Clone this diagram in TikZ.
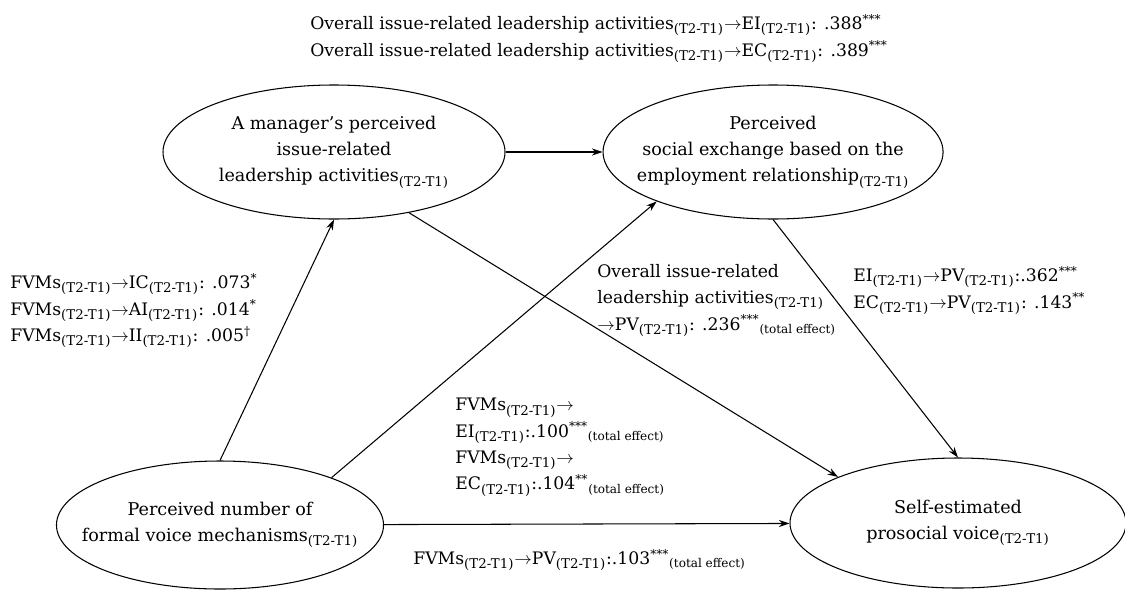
\documentclass[tikz,border=0pt]{standalone}
\usepackage{fontspec}
\setmainfont{DejaVu Serif}
\usetikzlibrary{arrows.meta,positioning,shapes.geometric}

% difference scores and arrows inside the labels
\newcommand{\tdiff}{\textsubscript{\fontsize{7.6}{9}\selectfont(T2-T1)}}
\newcommand{\toteff}{\textsubscript{(total effect)}}
\newcommand{\goes}{$\rightarrow$}

\begin{document}
\begin{tikzpicture}[
  construct/.style={draw, ellipse, inner ysep=0pt, inner xsep=-0.45cm, align=center, line width=0.6pt, font=\fontsize{10}{15}\selectfont},
  est/.style={align=left, inner sep=0pt, anchor=north west, font=\fontsize{9.8}{15}\selectfont},
  arr/.style={-{Stealth[length=6pt,width=4pt]}, line width=0.6pt}
]
\useasboundingbox (0,0) rectangle (22.5,11.82);

% latent constructs
\node[construct, minimum width=6.84cm, minimum height=2.68cm] (lead) at (6.68,8.78)
  {A manager’s perceived\\issue-related\\leadership activities\tdiff};
\node[construct, minimum width=6.8cm, minimum height=2.68cm, right=1.94cm of lead] (soc)
  {Perceived\\social exchange based on the\\employment relationship\tdiff};
\node[construct, minimum width=6.48cm, minimum height=2.56cm] (fvm) at (4.40,1.32)
  {Perceived number of\\formal voice mechanisms\tdiff};
\node[construct, minimum width=6.72cm, minimum height=2.6cm] (pv) at (19.16,1.36)
  {Self-estimated\\prosocial voice\tdiff};

% paths
\draw[arr] (lead) -- (soc);
\draw[arr] (fvm.north) -- (lead.south);
\draw[arr] (fvm.23) -- (soc.203);
\draw[arr] (lead.-39) -- (pv.159);
\draw[arr] (soc.south) -- (pv.north);
\draw[arr] (fvm) -- (pv);

% estimates
\node[est] (topest) at (6.2,11.54)
  {Overall issue-related leadership activities\tdiff\goes EI\tdiff: .388\textsuperscript{***}\\
   Overall issue-related leadership activities\tdiff\goes EC\tdiff: .389\textsuperscript{***}};
\node[est] (leftest) at (0.2,6.36)
  {FVMs\tdiff\goes IC\tdiff: .073\textsuperscript{*}\\
   FVMs\tdiff\goes AI\tdiff: .014\textsuperscript{*}\\
   FVMs\tdiff\goes II\tdiff: .005\textsuperscript{\dag}};
\node[est] (midest) at (11.94,6.54)
  {Overall issue-related\\
   leadership activities\tdiff\\
   \goes PV\tdiff: .236\textsuperscript{***}\toteff};
\node[est] (rightest) at (17.06,6.5)
  {EI\tdiff\goes PV\tdiff:.362\textsuperscript{***}\\
   EC\tdiff\goes PV\tdiff: .143\textsuperscript{**}};
\node[est] (fvmest) at (9.1,3.86)
  {FVMs\tdiff\goes\\
   EI\tdiff:.100\textsuperscript{***}\toteff\\
   FVMs\tdiff\goes\\
   EC\tdiff:.104\textsuperscript{**}\toteff};
\node[est] (botest) at (8.26,0.84)
  {FVMs\tdiff\goes PV\tdiff:.103\textsuperscript{***}\toteff};

\end{tikzpicture}
\end{document}
